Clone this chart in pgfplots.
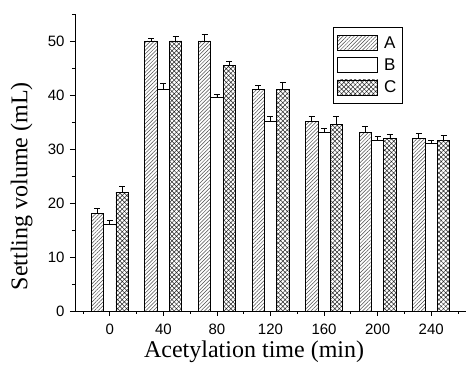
\documentclass[border=0pt]{standalone}
\usepackage{fontspec}
\setmainfont{Liberation Serif}
\setsansfont{Liberation Sans}
\usepackage{pgfplots}
\usepackage{pgfplotstable}
\pgfplotsset{compat=1.18}
\usetikzlibrary{patterns.meta}

\pgfplotstableread{
x y e
0 18.1 0.9
1 50.0 0.4
2 50.0 1.2
3 41.1 0.7
4 35.1 0.9
5 33.0 1.1
6 32.0 0.9
}\dataA
\pgfplotstableread{
x y e
0 16.0 0.7
1 41.1 1.1
2 39.6 0.5
3 35.1 0.9
4 33.0 0.8
5 31.6 0.8
6 31.0 0.6
}\dataB
\pgfplotstableread{
x y e
0 22.0 1.1
1 50.0 0.8
2 45.5 0.8
3 41.1 1.2
4 34.5 1.5
5 32.0 0.7
6 31.5 1.0
}\dataC

\begin{document}
\begin{tikzpicture}
\begin{axis}[
  at={(75pt,61pt)}, anchor=south west,
  scale only axis, width=391pt, height=297pt,
  ybar=0pt, bar width=0.23,
  xmin=-0.65, xmax=6.65, ymin=0, ymax=55,
  axis x line*=bottom, axis y line*=left,
  axis line style={line width=0.8pt, black},
  xtick={0,...,6}, xticklabels={0,40,80,120,160,200,240},
  minor xtick={-0.5,0.5,...,6.5},
  ytick={0,10,...,50}, minor ytick={5,15,...,55},
  tick align=outside,
  major tick length=5pt, minor tick length=3pt,
  every tick/.style={line width=0.8pt, black},
  ticklabel style={font=\sffamily\fontsize{15}{15}\selectfont},
  xticklabel style={yshift=-4pt},
  yticklabel style={xshift=-2pt},
  /pgf/number format/assume math mode=true,
  xlabel={Acetylation time (min)}, ylabel={Settling volume (mL)},
  label style={font=\rmfamily\fontsize{24}{24}\selectfont},
  xlabel style={at={(axis description cs:0.458,0)}, anchor=north, yshift=-26pt},
  ylabel style={at={(axis description cs:0,0.42)}, anchor=south, xshift=0pt, yshift=39pt},
  legend style={at={(rel axis cs:0.66,0.956)}, anchor=north west, draw=black, line width=0.6pt,
    font=\sffamily\fontsize{17}{17}\selectfont, row sep=5pt, inner xsep=4pt, inner ysep=7pt,
    nodes={inner xsep=2pt}},
  legend cell align=left,
  legend image code/.code={\draw[#1, line width=0.8pt] (0pt,-7.5pt) rectangle (40pt,7.5pt);
    \path (44pt,0pt);},
  error bars/error bar style={line width=0.8pt, black, solid},
  error bars/error mark options={black, mark size=3pt, line width=0.8pt, rotate=90},
]
\addplot[draw=black, line width=0.8pt,
  pattern={Lines[angle=45,distance=2.6pt,line width=0.5pt]}, pattern color=black!70,
  error bars/.cd, y dir=plus, y explicit]
  table[x=x, y=y, y error=e] {\dataA};
\addlegendentry{A}
\addplot[draw=black, fill=white, line width=0.8pt,
  error bars/.cd, y dir=plus, y explicit]
  table[x=x, y=y, y error=e] {\dataB};
\addlegendentry{B}
\addplot[draw=black, line width=0.8pt,
  pattern={Hatch[angle=45,distance=3.2pt,line width=0.5pt]}, pattern color=black!85,
  error bars/.cd, y dir=plus, y explicit]
  table[x=x, y=y, y error=e] {\dataC};
\addlegendentry{C}
\end{axis}
\pgfresetboundingbox
\path (0,0) rectangle (472pt,372pt);
\end{tikzpicture}
\end{document}
